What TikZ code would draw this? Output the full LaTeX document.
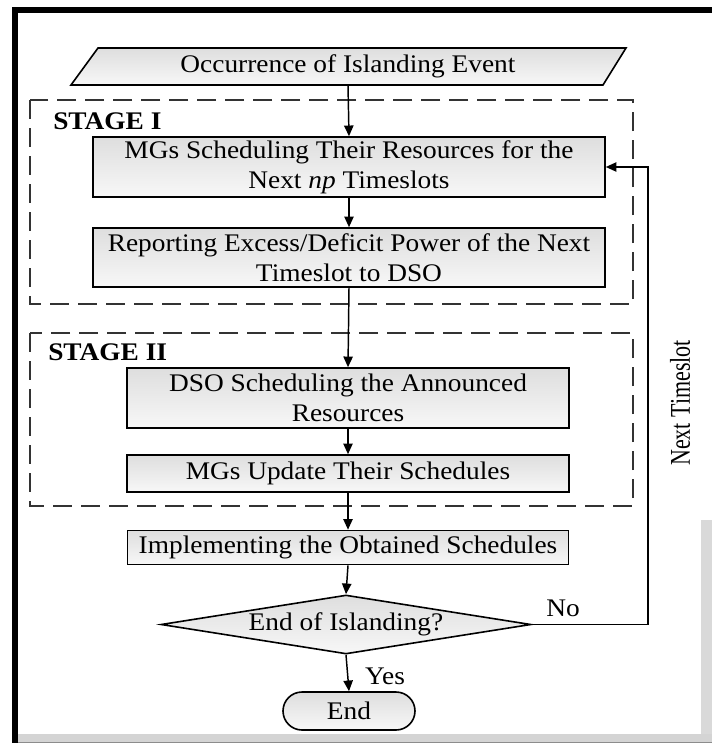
\documentclass[tikz,border=0pt]{standalone}
\usepackage{fontspec}
\setmainfont{Liberation Serif}[FakeStretch=1.08]
\newfontfamily\plainserif{Liberation Serif}
\usetikzlibrary{shapes.geometric,shapes.misc,arrows.meta}
\newcommand\mainfs{\fontsize{19pt}{22.5pt}\selectfont}
\tikzset{
  procbox/.style={draw=black, line width=1.2pt, top color=black!13, bottom color=black!3,
    inner sep=0pt, align=center, font=\mainfs},
  stagebox/.style={draw=black!80, line width=1.2pt, dash pattern=on 14pt off 7pt},
  stagelabel/.style={anchor=west, font=\mainfs\bfseries, inner sep=0pt},
  conn/.style={draw=black, line width=1.1pt},
  arr/.style={conn, -{Triangle[length=8pt,width=7pt]}},
  lbl/.style={font=\mainfs, inner sep=0pt}
}
\begin{document}
\begin{tikzpicture}[x=0.75pt,y=-0.75pt]
% canvas and frame
\fill[white] (0,0) rectangle (712,743);
\useasboundingbox (0,0) rectangle (712,743);
\fill[black!15] (701,520) rectangle (712,734);
\fill[black!17] (17,734) rectangle (712,743);
\fill[black!45] (17,741.5) rectangle (712,743);
\fill[black] (12,7) rectangle (712,13);
\fill[black] (12,7) rectangle (17.5,743);

% stage boxes
\draw[stagebox] (30,100) rectangle (633,304);
\draw[stagebox] (30,333) rectangle (633,506);
\node[stagelabel] (s1) at (53,121) {STAGE I};
\node[stagelabel] (s2) at (48,352) {STAGE II};

% start parallelogram
\path[draw=black, line width=1.2pt, top color=black!13, bottom color=black!3]
  (71,85) -- (98,48) -- (626,48) -- (603,85) -- cycle;
\node[lbl, minimum height=27.75pt, minimum width=300pt] (occ) at (348,66.5) {Occurrence of Islanding Event};

% process boxes
\node[procbox, minimum width=384pt, minimum height=45pt] (mgs) at (349,167)
  {MGs Scheduling Their Resources for the\\Next \textit{np} Timeslots};
\node[procbox, minimum width=384pt, minimum height=44.25pt] (rep) at (349,257.5)
  {Reporting Excess/Deficit Power of the Next\\Timeslot to DSO};
\node[procbox, minimum width=331.5pt, minimum height=45pt] (dso) at (348,398)
  {DSO Scheduling the Announced\\Resources};
\node[procbox, minimum width=331.5pt, minimum height=27.75pt] (upd) at (348,473.5)
  {MGs Update Their Schedules};
\node[procbox, minimum width=331pt, minimum height=25.5pt] (impl) at (348,547.5)
  {Implementing the Obtained Schedules};
\node[procbox, diamond, aspect=6.3, minimum width=277.5pt, minimum height=44.25pt] (dec) at (346,624.5)
  {End of Islanding?};
\node[procbox, rounded rectangle, minimum width=99pt, minimum height=28.5pt] (endn) at (349,711)
  {End};

% connectors
\draw[arr] (occ.south) -- (mgs.north);
\draw[arr] (mgs.south) -- (rep.north);
\draw[arr] (rep.south) -- (dso.north);
\draw[arr] (dso.south) -- (upd.north);
\draw[arr] (upd.south) -- (impl.north);
\draw[arr] (impl.south) -- (dec.north);
\draw[arr] (dec.south) -- (endn.north);
\node[lbl] (yes) at (385,676) {Yes};
\coordinate (fb) at (648,624.5);
\draw[arr] (dec.east) -- (fb) |- (mgs.east);
\node[lbl] (no) at (563,608) {No};
\node[inner sep=0pt, rotate=90] (nt) at (680,403)
  {\scalebox{1}[1.3]{\plainserif\fontsize{16.5pt}{18pt}\selectfont Next Timeslot}};
\end{tikzpicture}
\end{document}
